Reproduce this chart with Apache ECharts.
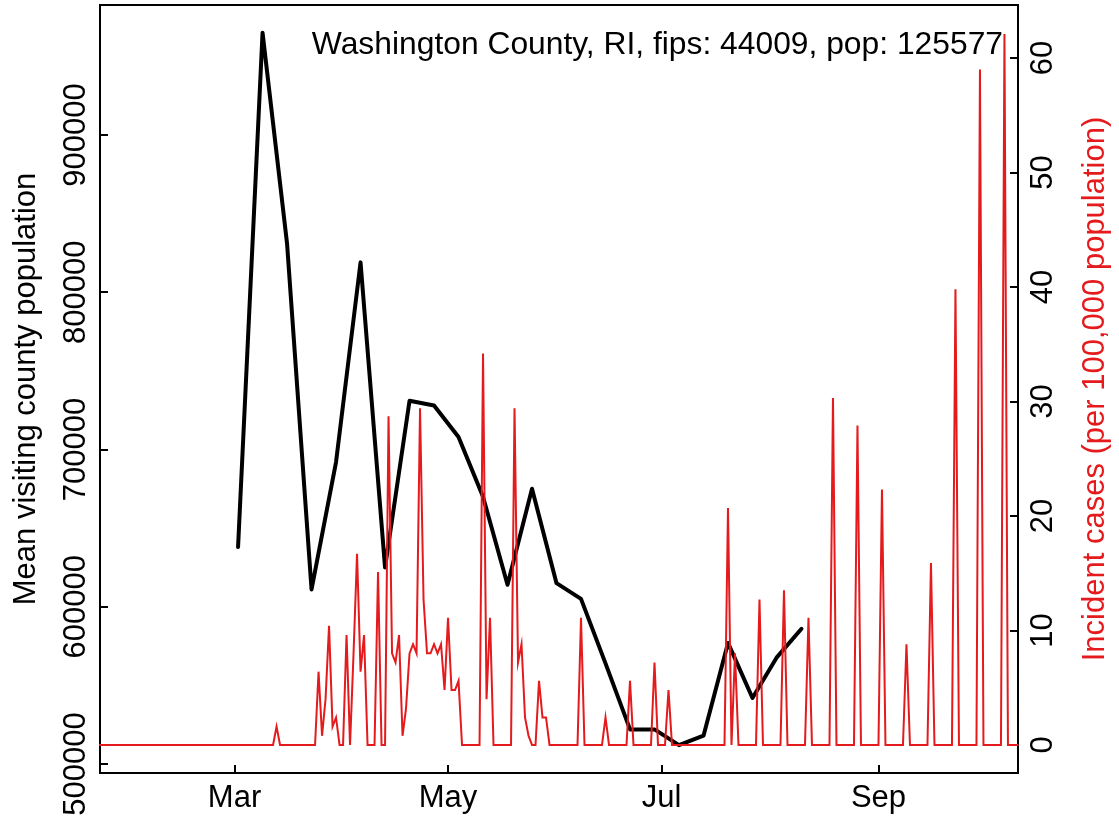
<!DOCTYPE html>
<html>
<head>
<meta charset="utf-8">
<script src="https://cdn.jsdelivr.net/npm/echarts@6/dist/echarts.min.js"></script>
<style>
  html, body { margin: 0; padding: 0; background: #fff; }
  #chart { width: 1119px; height: 826px; }
</style>
</head>
<body>
<div id="chart"></div>
<script>
// ---- data ----
const titleText = 'Washington County, RI, fips: 44009, pop: 125577';
const leftAxisName = 'Mean visiting county population';
const rightAxisName = 'Incident cases (per 100,000 population)';

// weekly mean visiting county population (black)
const visitDates = ['2020-03-02','2020-03-09','2020-03-16','2020-03-23','2020-03-30','2020-04-06',
  '2020-04-13','2020-04-20','2020-04-27','2020-05-04','2020-05-11','2020-05-18','2020-05-25',
  '2020-06-01','2020-06-08','2020-06-15','2020-06-22','2020-06-29','2020-07-06','2020-07-13',
  '2020-07-20','2020-07-27','2020-08-03','2020-08-10'];
const visitValues = [638000, 965000, 831000, 611000, 692000, 819000, 625000, 731000, 728000,
  708000, 670000, 614000, 675000, 615000, 605000, 564000, 522000, 522000, 512000, 518000,
  577000, 542000, 568000, 586000];

// daily incident cases per 100,000 (red), starting 2020-01-22
const caseStartDate = '2020-01-22';
const caseValues = [
  0,0,0,0,0,0,0,0,0,0,
  0,0,0,0,0,0,0,0,0,0,
  0,0,0,0,0,0,0,0,0,0,
  0,0,0,0,0,0,0,0,0,0,
  0,0,0,0,0,0,0,0,0,0,
  0,1.6,0,0,0,0,0,0,0,0,
  0,0,0,6.4,0.8,4.0,10.4,1.6,2.4,0,
  0,9.6,0,8.0,16.7,6.4,9.6,0,0,0,
  15.1,0,0,28.7,8.0,7.2,9.6,0.8,3.2,8.0,
  8.8,8.0,29.4,12.7,8.0,8.0,8.8,8.0,8.8,4.8,
  11.1,4.8,4.8,5.6,0,0,0,0,0,0,
  34.2,4.0,11.1,0,0,0,0,0,0,29.4,
  7.2,8.8,2.4,0.8,0,0,5.6,2.4,2.4,0,
  0,0,0,0,0,0,0,0,11.1,0,
  0,0,0,0,0,2.4,0,0,0,0,
  0,0,5.6,0,0,0,0,0,0,7.2,
  0,0,0,4.8,0,0,0,0,0,0,
  0,0,0,0,0,0,0,0,0,0,
  20.7,0,8.0,0,0,0,0,0,0,12.7,
  0,0,0,0,0,0,13.5,0,0,0,
  0,0,0,11.1,0,0,0,0,0,0,
  30.3,0,0,0,0,0,0,27.9,0,0,
  0,0,0,0,22.3,0,0,0,0,0,
  0,8.8,0,0,0,0,0,0,15.9,0,
  0,0,0,0,0,39.8,0,0,0,0,
  0,0,59.0,0,0,0,0,0,0,62.1,
  0,0,0,0
];

// axis ticks
const xTickDates = ['2020-03-01','2020-05-01','2020-07-01','2020-09-01'];
const xTickLabels = ['Mar','May','Jul','Sep'];
const leftTicks = [500000, 600000, 700000, 800000, 900000];
const rightTicks = [0, 10, 20, 30, 40, 50, 60];

// ---- helpers ----
const DAY = 86400000;
const origin = Date.parse('2020-03-01');
const dayNum = s => Math.round((Date.parse(s) - origin) / DAY);
const caseStart = dayNum(caseStartDate);

const visitData = visitDates.map((d, i) => [dayNum(d), visitValues[i]]);
const caseData = caseValues.map((v, i) => [caseStart + i, v]);
const xTicks = xTickDates.map(dayNum);

const FONT = '"Liberation Sans", Arial, Helvetica, sans-serif';
const RED = '#e41a1c';

const chart = echarts.init(document.getElementById('chart'), null, { renderer: 'canvas' });
chart.setOption({
  animation: false,
  backgroundColor: '#fff',
  textStyle: { fontFamily: FONT },
  grid: {
    left: 100, right: 98, top: 5, bottom: 53,
    show: true, borderColor: '#000', borderWidth: 2, backgroundColor: 'transparent'
  },
  xAxis: {
    type: 'value',
    min: -38.45, max: 223.87,
    splitLine: { show: false },
    axisLine: { show: true, onZero: false, lineStyle: { color: '#000', width: 2 } },
    axisTick: { show: true, inside: true, length: 8, lineStyle: { color: '#000', width: 2 }, customValues: xTicks },
    axisLabel: {
      customValues: xTicks,
      formatter: v => xTickLabels[xTicks.indexOf(v)] || '',
      color: '#000', fontSize: 31, fontFamily: FONT, margin: 10
    }
  },
  yAxis: [
    {
      type: 'value', position: 'left',
      min: 494277, max: 982670,
      name: leftAxisName, nameLocation: 'middle', nameRotate: 90, nameGap: 58,
      nameTextStyle: { color: '#000', fontSize: 31, fontFamily: FONT },
      splitLine: { show: false },
      axisLine: { show: true, onZero: false, lineStyle: { color: '#000', width: 2 } },
      axisTick: { show: true, inside: true, length: 8, lineStyle: { color: '#000', width: 2 }, customValues: leftTicks },
      axisLabel: {
        customValues: leftTicks, rotate: 90, formatter: v => String(v),
        color: '#000', fontSize: 31, fontFamily: FONT, margin: 8
      }
    },
    {
      type: 'value', position: 'right',
      min: -2.45, max: 64.63,
      name: rightAxisName, nameLocation: 'middle', nameRotate: 90, nameGap: 62,
      nameTextStyle: { color: RED, fontSize: 31, fontFamily: FONT },
      splitLine: { show: false },
      axisLine: { show: true, onZero: false, lineStyle: { color: '#000', width: 2 } },
      axisTick: { show: true, inside: true, length: 8, lineStyle: { color: '#000', width: 2 }, customValues: rightTicks },
      axisLabel: {
        customValues: rightTicks, rotate: 90, formatter: v => String(v),
        color: '#000', fontSize: 31, fontFamily: FONT, margin: 10
      }
    }
  ],
  series: [
    {
      name: 'visits', type: 'line', yAxisIndex: 0, data: visitData,
      symbol: 'none', clip: true, z: 2,
      lineStyle: { color: '#000', width: 4, join: 'round', cap: 'round' }
    },
    {
      name: 'cases', type: 'line', yAxisIndex: 1, data: caseData,
      symbol: 'none', clip: true, z: 3,
      lineStyle: { color: RED, width: 2, join: 'miter' }
    }
  ],
  graphic: [
    {
      type: 'text', right: 1119 - 1003, top: 29, z: 10,
      style: { text: titleText, fill: '#000', font: '31.8px ' + FONT }
    }
  ]
});
</script>
</body>
</html>
